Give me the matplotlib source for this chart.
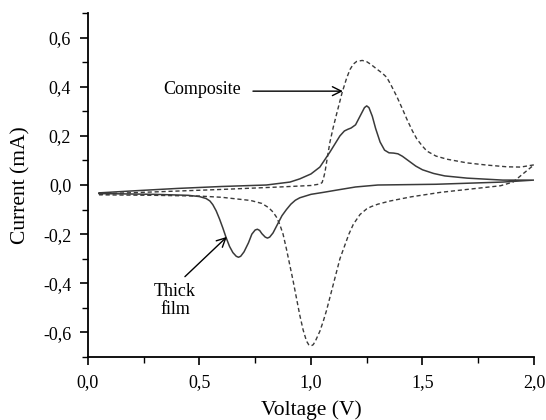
import matplotlib
matplotlib.use("Agg")
import matplotlib.pyplot as plt
from matplotlib.ticker import MultipleLocator, FuncFormatter

plt.rcParams['font.family'] = ['Liberation Serif', 'DejaVu Serif']

# Thick film (solid) cyclic voltammogram: forward then reverse sweep
thick_v = [0.05, 0.2, 0.4, 0.6, 0.8, 0.906, 0.95, 1.00, 1.04, 1.085, 1.13, 1.15, 1.166, 1.18,
           1.20, 1.22, 1.24, 1.25, 1.26, 1.275, 1.29, 1.31, 1.33, 1.35, 1.37, 1.39, 1.41,
           1.44, 1.47, 1.50, 1.55, 1.60, 1.70, 1.86, 2.00,
           1.86, 1.56, 1.30, 1.20, 1.12, 1.055, 1.00, 0.95, 0.93, 0.91, 0.89, 0.87, 0.85,
           0.83, 0.815, 0.805, 0.795, 0.78, 0.77, 0.76, 0.75, 0.735, 0.72, 0.70, 0.685,
           0.675, 0.665, 0.65, 0.635, 0.62, 0.605, 0.59, 0.575, 0.56, 0.547, 0.53, 0.50,
           0.45, 0.30, 0.15, 0.05]
thick_i = [-0.032, -0.024, -0.014, -0.006, 0.000, 0.012, 0.025, 0.045, 0.073, 0.134, 0.200,
           0.220, 0.227, 0.232, 0.245, 0.280, 0.315, 0.322, 0.315, 0.280, 0.230, 0.175,
           0.142, 0.131, 0.130, 0.127, 0.117, 0.097, 0.077, 0.062, 0.047, 0.037, 0.028,
           0.020, 0.020,
           0.012, 0.003, 0.000, -0.008, -0.020, -0.030, -0.038, -0.052, -0.062, -0.078,
           -0.100, -0.125, -0.160, -0.195, -0.212, -0.216, -0.212, -0.198, -0.185, -0.180,
           -0.183, -0.200, -0.235, -0.272, -0.290, -0.294, -0.290, -0.275, -0.250, -0.215,
           -0.175, -0.138, -0.105, -0.080, -0.065, -0.055, -0.047, -0.042, -0.038, -0.036,
           -0.035]

# Composite (dashed)
comp_v = [0.05, 0.3, 0.6, 0.86, 1.00, 1.04, 1.05, 1.057, 1.063, 1.075, 1.085, 1.10, 1.117,
          1.14, 1.16, 1.175, 1.19, 1.205, 1.23, 1.25, 1.27, 1.295, 1.32, 1.34, 1.36, 1.385,
          1.41, 1.43, 1.455, 1.475, 1.50, 1.52, 1.56, 1.61, 1.70, 1.79, 1.88, 1.94, 2.00,
          1.95, 1.906, 1.85, 1.70, 1.58, 1.53, 1.45, 1.355, 1.30, 1.27, 1.25, 1.22, 1.19,
          1.17, 1.15, 1.13, 1.11, 1.09, 1.07, 1.055, 1.04, 1.02, 1.01, 1.00, 0.99, 0.98,
          0.965, 0.95, 0.935, 0.92, 0.905, 0.89, 0.875, 0.86, 0.845, 0.83, 0.81, 0.78,
          0.73, 0.60, 0.50, 0.30, 0.05]
comp_i = [-0.036, -0.028, -0.018, -0.008, -0.002, 0.004, 0.010, 0.030, 0.053, 0.120, 0.174,
          0.235, 0.296, 0.377, 0.435, 0.470, 0.492, 0.503, 0.507, 0.502, 0.490, 0.472,
          0.455, 0.438, 0.405, 0.360, 0.310, 0.268, 0.220, 0.187, 0.158, 0.138, 0.118,
          0.105, 0.090, 0.081, 0.074, 0.073, 0.082,
          0.045, 0.012, -0.003, -0.018, -0.030, -0.037, -0.048, -0.065, -0.078, -0.088,
          -0.097, -0.120, -0.160, -0.200, -0.250, -0.300, -0.370, -0.440, -0.510, -0.555,
          -0.595, -0.635, -0.650, -0.655, -0.650, -0.635, -0.590, -0.530, -0.460, -0.390,
          -0.325, -0.260, -0.200, -0.160, -0.130, -0.110, -0.092, -0.075, -0.063, -0.050,
          -0.045, -0.042, -0.040]

x_ticks = [0.0, 0.5, 1.0, 1.5, 2.0]
y_ticks = [-0.6, -0.4, -0.2, 0.0, 0.2, 0.4, 0.6]

fig = plt.figure(figsize=(5.46, 4.20), dpi=100)
ax = fig.add_axes([0.161, 0.150, 0.817, 0.819])

ax.plot(thick_v, thick_i, color='#3a3a3a', lw=1.1, solid_joinstyle='round')
ax.plot(comp_v, comp_i, color='#3a3a3a', lw=1.0, linestyle=(0, (3, 2)))

ax.set_xlim(0, 2.0)
ax.set_ylim(-0.7, 0.7)
ax.set_xticks(x_ticks)
ax.set_yticks(y_ticks)
ax.xaxis.set_minor_locator(MultipleLocator(0.25))
ax.yaxis.set_minor_locator(MultipleLocator(0.1))
fmt = FuncFormatter(lambda v, p: f"{v:.1f}".replace('.', ',').replace('-0,0', '0,0'))
ax.xaxis.set_major_formatter(fmt)
ax.yaxis.set_major_formatter(fmt)

for s in ['top', 'right']:
    ax.spines[s].set_visible(False)
for s in ['left', 'bottom']:
    ax.spines[s].set_linewidth(1.3)
ax.tick_params(which='major', direction='out', length=6, width=1.2, labelsize=13, pad=6)
ax.tick_params(which='minor', direction='out', length=4, width=1.0)

ax.set_xlabel('Voltage (V)', fontsize=15.5, labelpad=7)
ax.set_ylabel('Current (mA)', fontsize=15.5, labelpad=9)

ax.text(0.51, 0.39, 'Composite', fontsize=13, ha='center', va='center')
ax.annotate('', xy=(1.143, 0.382), xytext=(0.74, 0.382),
            arrowprops=dict(arrowstyle='->', color='black', lw=1.0,
                            mutation_scale=16, shrinkA=0, shrinkB=0))
ax.text(0.39, -0.47, 'Thick\nfilm', fontsize=13, ha='center', va='center',
        linespacing=1.1)
ax.annotate('', xy=(0.623, -0.211), xytext=(0.435, -0.373),
            arrowprops=dict(arrowstyle='->', color='black', lw=1.0,
                            mutation_scale=16, shrinkA=0, shrinkB=0))

fig.savefig('out.png', dpi=100)
